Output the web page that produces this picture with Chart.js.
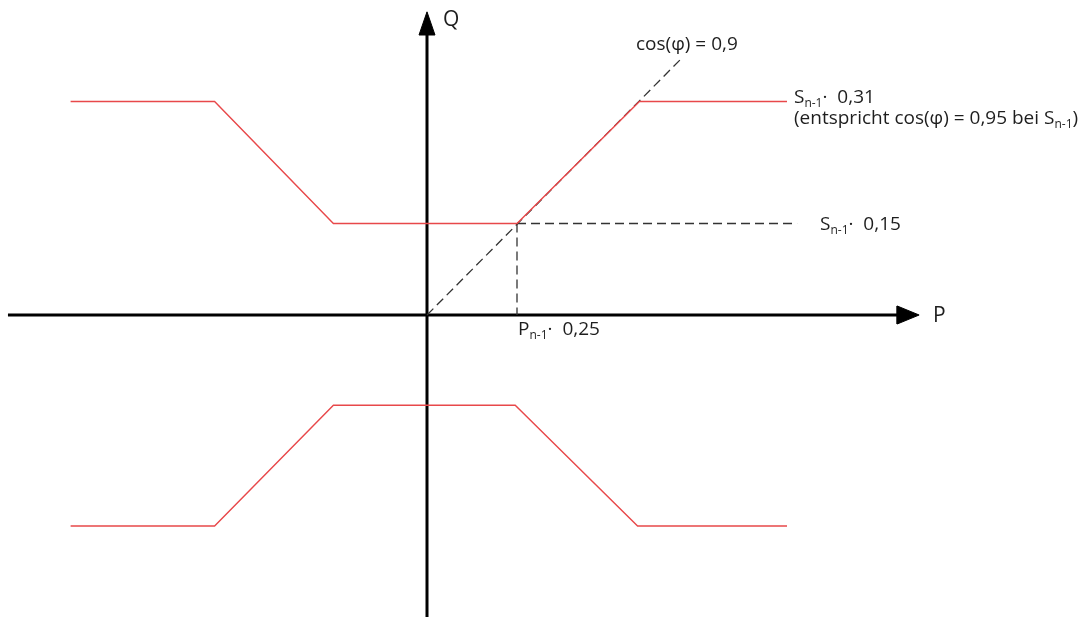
<!DOCTYPE html>
<html lang="de">
<head>
    <meta charset="UTF-8">
    <title>P-Q Kennlinie</title>
    <style>
        html, body { margin: 0; padding: 0; background: #fff; }
        .wrap { width: 1085px; height: 617px; position: relative; }
    </style>
</head>
<body>
<div class="wrap">
    <canvas id="pqChart"></canvas>
</div>

<script src="https://cdn.jsdelivr.net/npm/chart.js"></script>
<script>
    // Kennlinie oben (P, Q)
    const upperP = [-0.99, -0.59, -0.26, 0.25, 0.59, 1.0];
    const upperQ = [0.35, 0.35, 0.15, 0.15, 0.35, 0.35];
    // Kennlinie unten
    const lowerP = [-0.99, -0.59, -0.26, 0.245, 0.585, 1.0];
    const lowerQ = [-0.346, -0.346, -0.148, -0.148, -0.346, -0.346];
    // cos(phi) = 0,9 Gerade
    const cosP = [0, 0.711];
    const cosQ = [0, 0.423];
    // Hilfslinien bei P = 0,25 / Q = 0,15
    const helpHP = [0.25, 1.028];
    const helpHQ = [0.15, 0.15];
    const helpVP = [0.25, 0.25];
    const helpVQ = [0.15, 0];
    // Achsen
    const axisPRange = [-1.164, 1.367];
    const axisQRange = [-0.5, 0.497];

    const pts = (xs, ys) => xs.map((v, i) => ({x: v, y: ys[i]}));

    // Pfeilspitzen
    const arrowLen = 0.061, arrowHalfP = 0.0148;
    const arrowLenQ = 0.038, arrowHalfQ = 0.0222;
    const tipP = axisPRange[1], tipQ = axisQRange[1];
    const arrowP = [
        {x: tipP, y: 0}, {x: tipP - arrowLen, y: arrowHalfP},
        {x: tipP - arrowLen, y: -arrowHalfP}, {x: tipP, y: 0}
    ];
    const arrowQ = [
        {x: 0, y: tipQ}, {x: -arrowHalfQ, y: tipQ - arrowLenQ},
        {x: arrowHalfQ, y: tipQ - arrowLenQ}, {x: 0, y: tipQ}
    ];

    // Beschriftungen
    const labels = [
        {x: 0.0444, y: 0.4738, size: 21, parts: [{t: 'Q'}]},
        {x: 1.4056, y: -0.0115, size: 21, parts: [{t: 'P'}]},
        {x: 0.5806, y: 0.4344, size: 19, parts: [{t: 'cos(φ) = 0,9'}]},
        {x: 1.0194, y: 0.3475, size: 19, parts: [{t: 'S'}, {t: 'n-1', sub: true}, {t: '·  0,31'}]},
        {x: 1.0194, y: 0.3131, size: 19, parts: [{t: '(entspricht cos(φ) = 0,95 bei S'}, {t: 'n-1', sub: true}, {t: ')'}]},
        {x: 1.0917, y: 0.1393, size: 19, parts: [{t: 'S'}, {t: 'n-1', sub: true}, {t: '·  0,15'}]},
        {x: 0.2528, y: -0.0328, size: 19, parts: [{t: 'P'}, {t: 'n-1', sub: true}, {t: '·  0,25'}]}
    ];

    const textPlugin = {
        id: 'texts',
        afterDatasetsDraw(chart) {
            const {ctx, scales: {x, y}} = chart;
            ctx.save();
            ctx.fillStyle = '#1e1e1e';
            ctx.textBaseline = 'alphabetic';
            labels.forEach(l => {
                let px = x.getPixelForValue(l.x);
                const py = y.getPixelForValue(l.y);
                l.parts.forEach(p => {
                    const size = p.sub ? Math.round(l.size * 0.65) : l.size;
                    ctx.font = size + 'px "Open Sans"';
                    ctx.fillText(p.t, px, py + (p.sub ? 4 : 0));
                    px += ctx.measureText(p.t).width;
                });
            });
            ctx.restore();
        }
    };

    const red = '#e8484a';
    const dash = '#333333';

    new Chart(document.getElementById('pqChart'), {
        type: 'scatter',
        data: {
            datasets: [
                {data: pts(upperP, upperQ), borderColor: red, borderWidth: 1.4},
                {data: pts(lowerP, lowerQ), borderColor: red, borderWidth: 1.4},
                {data: pts(cosP, cosQ), borderColor: dash, borderWidth: 1.3, borderDash: [9, 5]},
                {data: pts(helpHP, helpHQ), borderColor: dash, borderWidth: 1.3, borderDash: [9, 5]},
                {data: pts(helpVP, helpVQ), borderColor: dash, borderWidth: 1.3, borderDash: [9, 5]},
                {data: [{x: axisPRange[0], y: 0}, {x: tipP - arrowLen, y: 0}], borderColor: '#000', borderWidth: 3},
                {data: [{x: 0, y: axisQRange[0]}, {x: 0, y: tipQ - arrowLenQ}], borderColor: '#000', borderWidth: 3},
                {data: arrowP, borderColor: '#000', backgroundColor: '#000', borderWidth: 1, fill: 'shape'},
                {data: arrowQ, borderColor: '#000', backgroundColor: '#000', borderWidth: 1, fill: 'shape'}
            ]
        },
        options: {
            responsive: true,
            maintainAspectRatio: false,
            animation: false,
            layout: {padding: 0},
            showLine: true,
            elements: {point: {radius: 0, hoverRadius: 0}, line: {tension: 0}},
            scales: {
                x: {type: 'linear', display: false, min: -427 / 360, max: 658 / 360},
                y: {type: 'linear', display: false, min: -302 / 610, max: 315 / 610}
            },
            plugins: {
                legend: {display: false},
                tooltip: {enabled: false}
            }
        },
        plugins: [textPlugin]
    });
</script>
</body>
</html>
